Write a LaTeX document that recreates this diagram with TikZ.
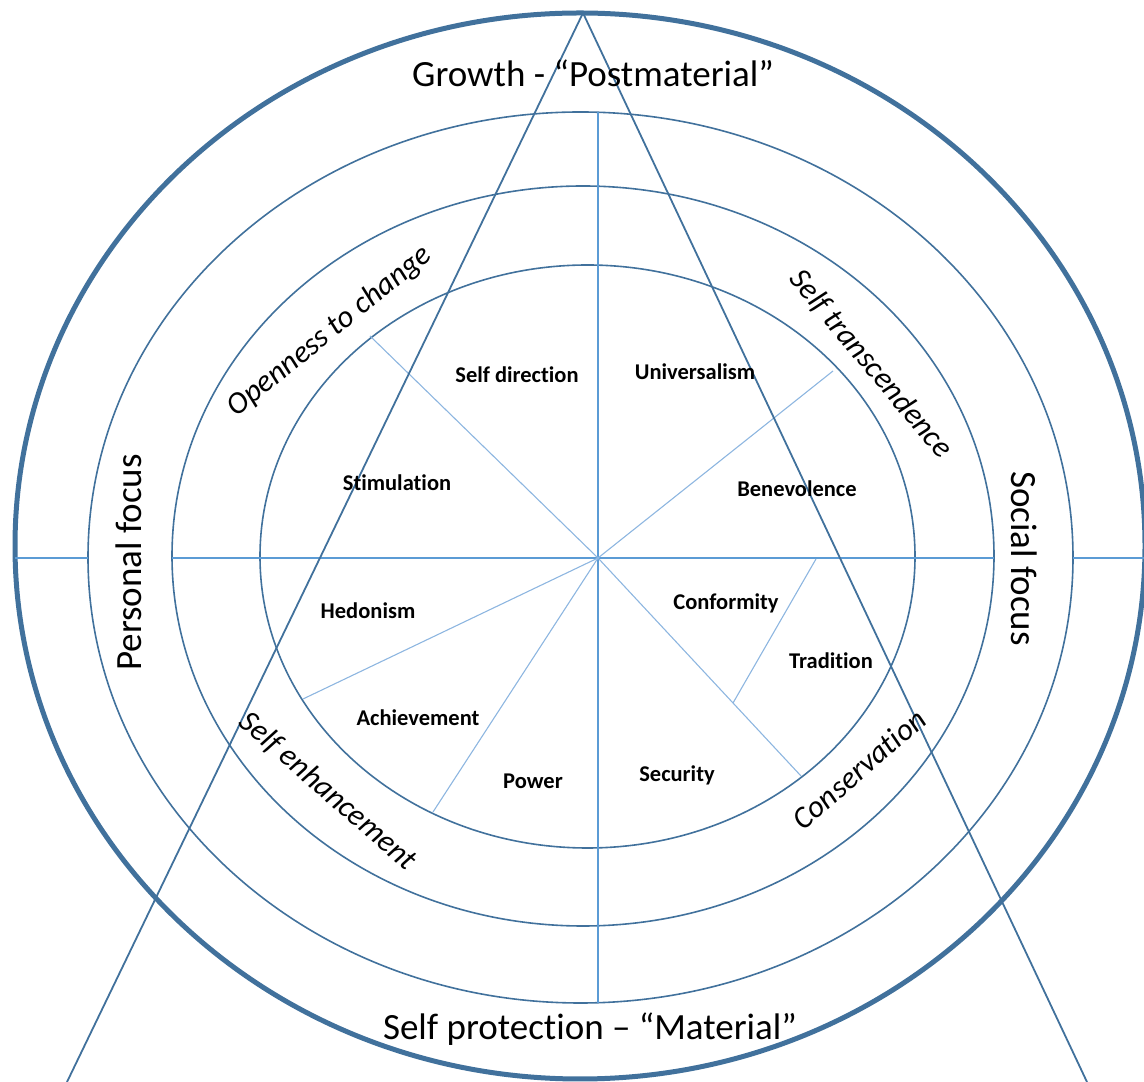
\documentclass[tikz,border=0pt]{standalone}
\usepackage{fontspec}
\setmainfont{Carlito}[Ligatures=NoCommon]
\definecolor{ringblue}{HTML}{41719C}
\definecolor{axisblue}{HTML}{5B9BD5}
\definecolor{spokeblue}{HTML}{8DB6E0}
\begin{document}
\begin{tikzpicture}[x=1pt,y=1pt,
  ring/.style={draw=ringblue, line width=1.6pt},
  rim/.style={draw=ringblue, line width=5pt},
  wedge/.style={draw=ringblue, line width=1.8pt},
  axis/.style={draw=axisblue, line width=1.6pt},
  spoke/.style={draw=spokeblue, line width=1.1pt},
  value/.style={font=\fontsize{22.5}{26}\selectfont\bfseries, anchor=base, inner sep=0pt},
  pole/.style={font=\fontsize{37}{44}\selectfont, anchor=base, inner sep=0pt},
  motive/.style={font=\fontsize{31}{37}\selectfont\itshape, anchor=base, inner sep=0pt}]
\useasboundingbox (0,0) rectangle (1144,1082);

% centre of the value circle
\coordinate (c) at (598,524);

% concentric rings
\draw[ring] (587.5,525.5) ellipse [x radius=327.5, y radius=291.5];
\draw[ring] (583,526) ellipse [x radius=411, y radius=370];
\draw[ring] (580.5,524.5) ellipse [x radius=492.5, y radius=445.5];
\draw[rim]  (580,536) ellipse [x radius=565, y radius=533];

% axes
\coordinate (hl0) at (15,524);   \coordinate (hl1) at (88,524);
\coordinate (hm0) at (172,524);  \coordinate (hm1) at (994,524);
\coordinate (hr0) at (1073,524); \coordinate (hr1) at (1146,524);
\coordinate (vt) at (598,970);   \coordinate (vb) at (598,79);
\draw[axis] (hl0) -- (hl1);
\draw[axis] (hm0) -- (hm1);
\draw[axis] (hr0) -- (hr1);
\draw[axis] (vt) -- (vb);

% value dividers
\coordinate (s1) at (370,746);
\coordinate (s2) at (833,711);
\coordinate (s3) at (303,383);
\coordinate (s4) at (433,270);
\coordinate (s5) at (801,306);
\coordinate (s6a) at (816,523);
\coordinate (s6b) at (733,379);
\draw[spoke] (c) -- (s1);
\draw[spoke] (c) -- (s2);
\draw[spoke] (c) -- (s3);
\draw[spoke] (c) -- (s4);
\draw[spoke] (c) -- (s5);
\draw[spoke] (s6a) -- (s6b);

% growth / protection wedge
\coordinate (apex) at (583,1069);
\coordinate (footl) at (67,0);
\coordinate (footr) at (1087,0);
\draw[wedge] (footl) -- (apex) -- (footr);

% value names
\node[value] (sd)  at (517,699) {Self direction};
\node[value] (sti) at (397,591) {Stimulation};
\node[value] (uni) at (695,702) {Universalism};
\node[value] (ben) at (797,585) {Benevolence};
\node[value] (hed) at (368,463) {Hedonism};
\node[value] (ach) at (418,356) {Achievement};
\node[value] (pow) at (533,293) {Power};
\node[value] (con) at (726,472) {Conformity};
\node[value] (tra) at (831,413) {Tradition};
\node[value] (sec) at (677,300) {Security};

% higher-order motives
\node[motive, rotate=39]  (open)  at (335,744) {Openness to change};
\node[motive, rotate=-50] (trans) at (864,712) {Self transcendence};
\node[motive, rotate=-41] (enh)   at (322,284) {Self enhancement};
\node[motive, rotate=41]  (cons)  at (866,305) {Conservation};

% poles
\node[pole] (grow) at (593,995) {Growth - “Postmaterial”};
\node[pole] (prot) at (590,42) {Self protection – “Material”};
\node[pole, rotate=90]  (pers) at (141,519.5) {Personal focus};
\node[pole, rotate=-90] (soc)  at (1011,523.5) {Social focus};
\end{tikzpicture}
\end{document}
